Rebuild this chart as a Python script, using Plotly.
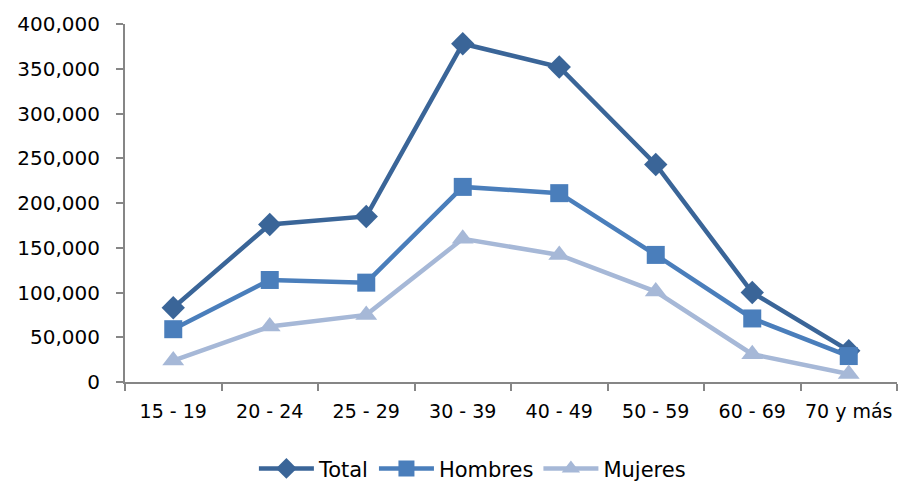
import plotly.graph_objects as go

categories = ["15 - 19", "20 - 24", "25 - 29", "30 - 39", "40 - 49", "50 - 59", "60 - 69", "70 y más"]
total = [83000, 176000, 185000, 378000, 352000, 243000, 100000, 35000]
hombres = [59000, 114000, 111000, 218000, 211000, 142000, 71000, 29000]
mujeres = [24000, 62000, 75000, 160000, 142000, 101000, 31000, 9000]
y_ticks = [0, 50000, 100000, 150000, 200000, 250000, 300000, 350000, 400000]
y_tick_labels = ["0", "50,000", "100,000", "150,000", "200,000", "250,000", "300,000", "350,000", "400,000"]

fig = go.Figure()
fig.add_trace(go.Scatter(x=categories, y=total, name="Total", mode="lines+markers",
                         line=dict(color="#3A6598", width=4.5),
                         marker=dict(symbol="diamond", size=18, color="#3A6598")))
fig.add_trace(go.Scatter(x=categories, y=hombres, name="Hombres", mode="lines+markers",
                         line=dict(color="#4A7EBB", width=4.5),
                         marker=dict(symbol="square", size=18, color="#4A7EBB")))
fig.add_trace(go.Scatter(x=categories, y=mujeres, name="Mujeres", mode="lines+markers",
                         line=dict(color="#A6B8D7", width=4.5),
                         marker=dict(symbol="triangle-up", size=19, color="#A6B8D7")))

fig.update_layout(
    width=901, height=485,
    margin=dict(l=125, r=4, t=24, b=103, autoexpand=False),
    paper_bgcolor="white", plot_bgcolor="white",
    font=dict(family="DejaVu Sans", size=20, color="#000000"),
    showlegend=True,
    legend=dict(orientation="h", x=0.45, xanchor="center", y=-0.185, yanchor="top",
                font=dict(size=21), itemwidth=55),
)
fig.update_xaxes(showline=True, linecolor="#868686", linewidth=2, ticks="outside",
                 tickson="boundaries", ticklen=7, tickcolor="#868686", tickwidth=2,
                 showgrid=False, range=[-0.5, 7.5], ticklabelstandoff=11, tickangle=0,
                 tickfont=dict(size=19))
fig.update_yaxes(showline=True, linecolor="#868686", linewidth=2, ticks="outside",
                 ticklen=7, tickcolor="#868686", tickwidth=2, showgrid=False,
                 range=[0, 400000], tickvals=y_ticks, ticktext=y_tick_labels,
                 zeroline=False, ticklabelstandoff=12)

fig.write_html("out.html", config={"displayModeBar": False},
               post_script="document.body.style.margin='0';document.body.style.overflow='hidden';")
